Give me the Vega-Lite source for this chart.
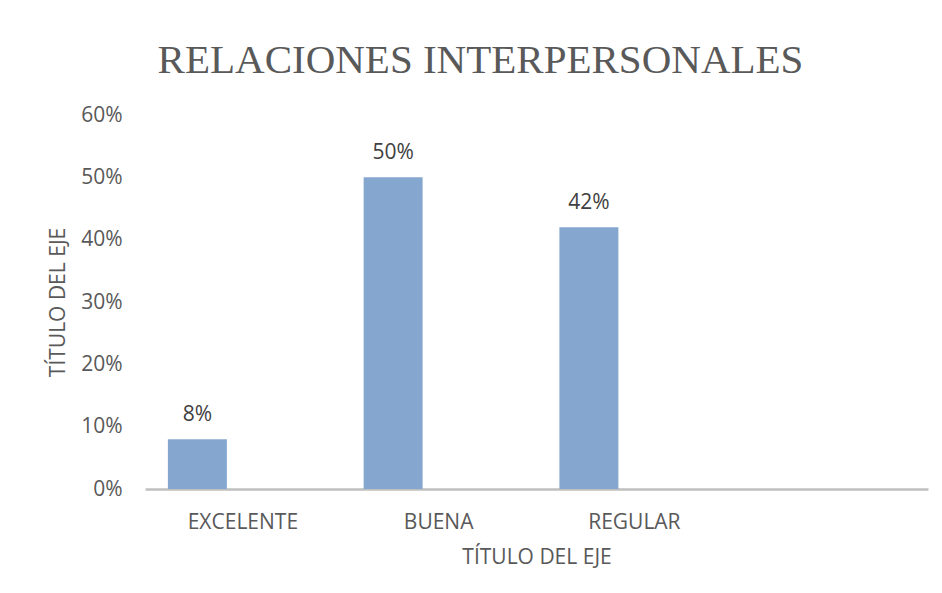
{
  "$schema": "https://vega.github.io/schema/vega-lite/v6.json",
  "width": 783,
  "height": 374,
  "autosize": {"type": "none"},
  "padding": {"left": 145, "top": 115, "right": 14, "bottom": 104},
  "background": "white",
  "config": {
    "view": {"stroke": null},
    "font": "Open Sans"
  },
  "title": {
    "text": "RELACIONES INTERPERSONALES",
    "font": "Liberation Serif",
    "fontSize": 41,
    "fontWeight": "normal",
    "color": "#595959",
    "anchor": "middle",
    "baseline": "alphabetic",
    "dx": -56,
    "dy": 55,
    "offset": 45
  },
  "data": {
    "values": [
      {"categoria": "EXCELENTE", "valor": 0.08},
      {"categoria": "BUENA", "valor": 0.50},
      {"categoria": "REGULAR", "valor": 0.42}
    ]
  },
  "encoding": {
    "x": {
      "field": "categoria",
      "type": "nominal",
      "sort": null,
      "scale": {"domain": ["EXCELENTE", "BUENA", "REGULAR", " "], "paddingInner": 0, "paddingOuter": 0},
      "axis": {
        "title": "TÍTULO DEL EJE",
        "labelAngle": 0,
        "labelFont": "Open Sans",
        "labelFontSize": 21,
        "labelColor": "#595959",
        "labelPadding": 22,
        "ticks": false,
        "tickSize": 0,
        "domainColor": "#bfbfbf",
        "domainWidth": 2.5,
        "titleFont": "Open Sans",
        "titleFontSize": 21,
        "titleFontWeight": "normal",
        "titleColor": "#595959",
        "titlePadding": 14
      }
    },
    "y": {
      "field": "valor",
      "type": "quantitative",
      "scale": {"domain": [0, 0.6], "nice": false},
      "axis": {
        "title": "TÍTULO DEL EJE",
        "format": ".0%",
        "values": [0, 0.1, 0.2, 0.3, 0.4, 0.5, 0.6],
        "grid": false,
        "domain": false,
        "ticks": false,
        "tickSize": 0,
        "labelFont": "Open Sans",
        "labelFontSize": 21,
        "labelColor": "#595959",
        "labelPadding": 23,
        "titleFont": "Open Sans",
        "titleFontSize": 21,
        "titleFontWeight": "normal",
        "titleColor": "#595959",
        "titlePadding": 12
      }
    }
  },
  "layer": [
    {
      "mark": {"type": "bar", "width": 59, "xOffset": -45.5, "color": "#85a7cf"}
    },
    {
      "mark": {"type": "text", "xOffset": -45.5, "dy": -18, "baseline": "alphabetic", "fontSize": 21, "font": "Open Sans", "color": "#404040"},
      "encoding": {
        "text": {"field": "valor", "type": "quantitative", "format": ".0%"}
      }
    }
  ]
}
